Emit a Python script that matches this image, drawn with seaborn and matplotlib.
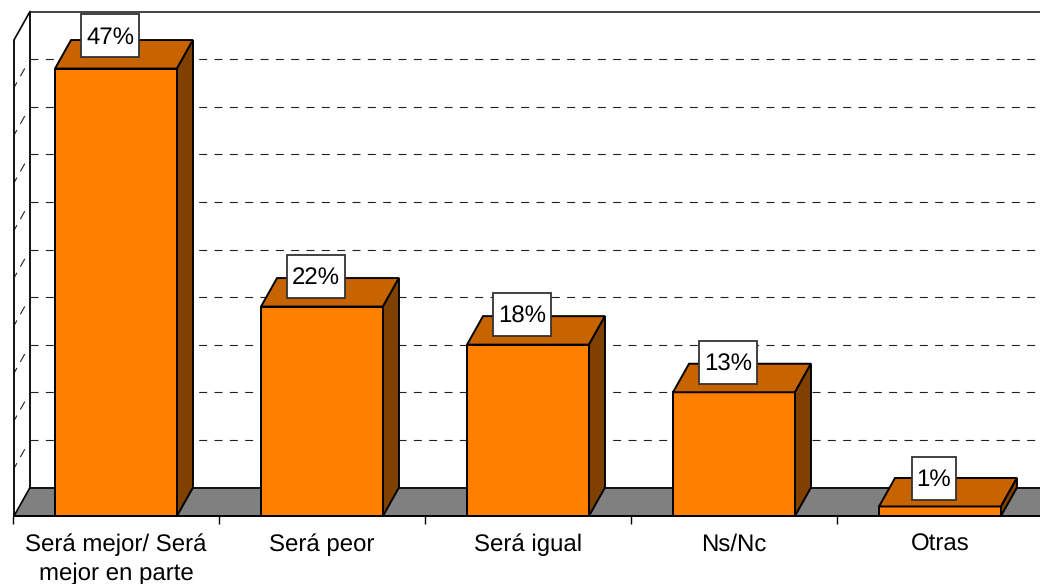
import matplotlib
matplotlib.use("Agg")
import matplotlib.pyplot as plt
from matplotlib.patches import Polygon, Rectangle
from matplotlib.transforms import Affine2D, IdentityTransform
import pandas as pd
import seaborn as sns

categories = ["Será mejor/ Será\nmejor en parte", "Será peor", "Será igual", "Ns/Nc", "Otras"]
values = [47, 22, 18, 13, 1]
labels = ["47%", "22%", "18%", "13%", "1%"]
grid_levels = [5, 10, 15, 20, 25, 30, 35, 40, 45]

C_FRONT, C_TOP, C_SIDE, C_FLOOR = "#FF8000", "#C86400", "#804000", "#808080"
DX, DY = 16, 28.5
W, H = 1040, 584
L, R, B, T = 13, 1043, 516, 40
EDGE = 1.4

sns.set_theme(style="white")
plt.rcParams["font.family"] = ["Liberation Sans", "DejaVu Sans"]
plt.rcParams["text.hinting"] = "no_hinting"
plt.rcParams["text.hinting_factor"] = 1

fig = plt.figure(figsize=(W / 100, H / 100), dpi=100, facecolor="white")
ax = fig.add_axes([L / W, (H - B) / H, (R - L) / W, (B - T) / H])
df = pd.DataFrame({"cat": categories, "val": values})
sns.barplot(data=df, x="cat", y="val", color=C_FRONT, saturation=1, width=0.592,
            edgecolor="black", linewidth=EDGE, ax=ax)
ax.set_xlim(-0.5, 4.5)
ax.set_ylim(0, 50)
ax.set_xlabel("")
ax.set_ylabel("")
ax.set_yticks([])
ax.patch.set_visible(False)
for s in ax.spines.values():
    s.set_visible(False)

front_wall = ax.transData + Affine2D().translate(1, 0)
back_wall = ax.transData + Affine2D().translate(1 + DX, DY)
back = ax.transData + Affine2D().translate(DX, DY)
x0, x1 = ax.get_xlim()

def line(xs, ys, tr, **kw):
    ax.plot(xs, ys, transform=tr, clip_on=False, scalex=False, scaley=False, **kw)

# floor
pts = [front_wall.transform(p) for p in [(x0, 0), (x1, 0)]]
pts += [back_wall.transform(p) for p in [(x1 + 1, 0), (x0, 0)]]
ax.add_patch(Polygon(pts, closed=True, transform=IdentityTransform(), facecolor=C_FLOOR,
                     edgecolor="none", clip_on=False, zorder=1))
solid = dict(color="#111111", lw=EDGE, zorder=1.5, solid_capstyle="butt")
line([x0, x1 + 1], [0, 0], back_wall, **solid)
line([x0, x1 + 1], [50, 50], back_wall, color="#111111", lw=1.1, zorder=1.5)
line([x0, x0], [0, 50], back_wall, **solid)
line([x0, x0], [0, 50], front_wall, **solid)
line([x0, x1], [0, 0], front_wall, color="black", lw=EDGE, zorder=2.6)

# left wall diagonals
for lv in [0, 50]:
    a = front_wall.transform((x0, lv))
    b = back_wall.transform((x0, lv))
    ax.plot([a[0], b[0]], [a[1], b[1]], transform=IdentityTransform(), color="black",
            lw=1.2, clip_on=False, zorder=1.6, scalex=False, scaley=False)

# dashed gridlines on back and side wall
dash = dict(color="#222222", lw=0.8, zorder=1.4)
for lv in grid_levels:
    line([x0, x1 + 1], [lv, lv], back_wall, linestyle=(0, (7.2, 6.6)), **dash)
    a = front_wall.transform((x0, lv))
    b = back_wall.transform((x0, lv))
    ax.plot([a[0], b[0]], [a[1], b[1]], transform=IdentityTransform(), linestyle=(0, (5.4, 6.3, 8.1, 18)),
            clip_on=False, scalex=False, scaley=False, **dash)

# 3D faces derived from the seaborn bars
bars = [b for b in ax.patches if isinstance(b, Rectangle) and b.get_width() < 1][:len(values)]
for i, (bar, lab) in enumerate(zip(bars, labels)):
    bar.set_zorder(3 + i)
    bar.set_clip_on(False)
    xl, xr, top = bar.get_x(), bar.get_x() + bar.get_width(), bar.get_height()
    f = [ax.transData.transform(p) for p in [(xl, top), (xr, top), (xr, 0)]]
    g = [back.transform(p) for p in [(xl, top), (xr, top), (xr, 0)]]
    ax.add_patch(Polygon([f[0], f[1], g[1], g[0]], closed=True, transform=IdentityTransform(),
                         facecolor=C_TOP, edgecolor="black", lw=EDGE, clip_on=False, zorder=3 + i))
    ax.add_patch(Polygon([f[1], g[1], g[2], f[2]], closed=True, transform=IdentityTransform(),
                         facecolor=C_SIDE, edgecolor="black", lw=EDGE, clip_on=False, zorder=3 + i))
    # value label box
    cx, _ = ax.transData.transform(((xl + xr) / 2, 0))
    _, cy = ax.transData.transform((0, top))
    cx -= 6
    cy += 28 + 0.1 * top
    t = ax.text(cx, cy - 1.5, lab, transform=IdentityTransform(), ha="center", va="center",
                fontsize=17.4, color="black", zorder=21, clip_on=False)
    ext = t.get_window_extent(fig.canvas.get_renderer())
    w = ext.width + 10
    h = 43
    ax.add_patch(Rectangle((cx - w / 2, cy - h / 2), w, h, transform=IdentityTransform(),
                           facecolor="white", edgecolor="#333333", lw=1.3,
                           clip_on=False, zorder=20))

# axis ticks at category boundaries
ax.set_xticks(range(len(categories)))
ax.set_xticklabels(categories, fontsize=17.4, color="black", linespacing=1.36)
ax.set_xticks([-0.5, 0.5, 1.5, 2.5, 3.5], minor=True)
ax.tick_params(axis="x", which="major", length=0, pad=12.5)
ax.tick_params(axis="x", which="minor", length=6, width=1.0, color="black", bottom=True)

fig.savefig("out.png", dpi=100, facecolor="white")
